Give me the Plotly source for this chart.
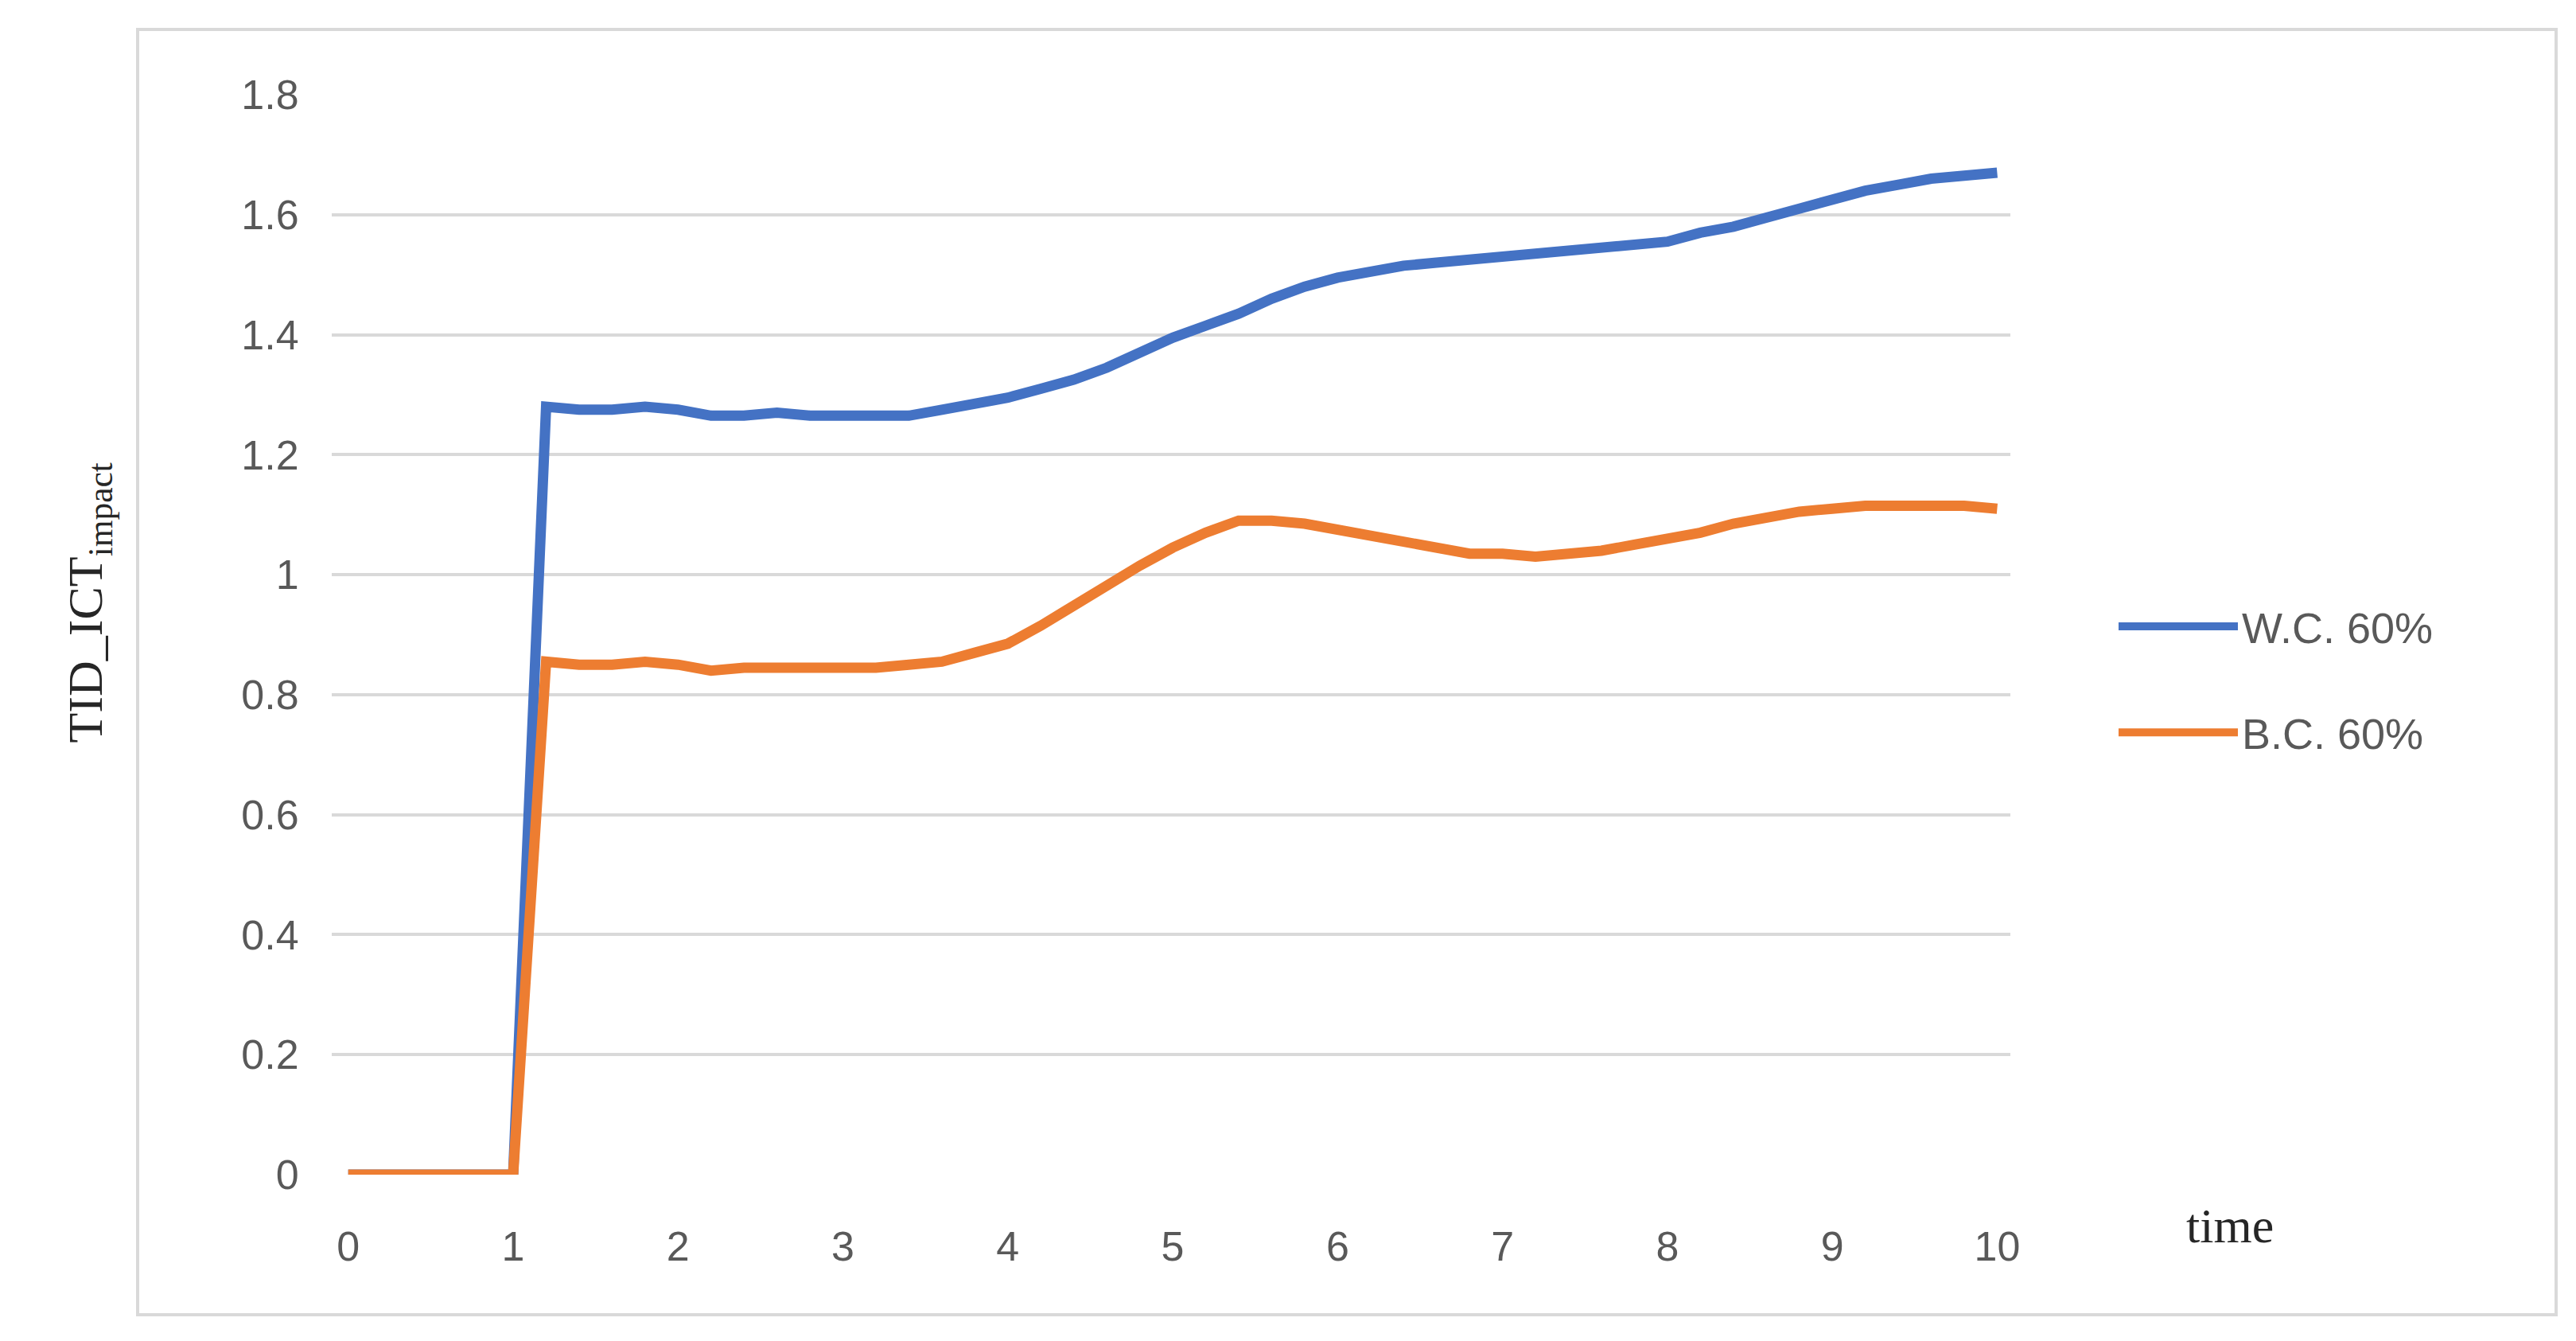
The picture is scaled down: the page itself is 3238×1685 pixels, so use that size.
import plotly.graph_objects as go

# time axis, step 0.2
time = [round(i * 0.2, 1) for i in range(51)]

wc_60 = [0, 0, 0, 0, 0, 0,
         1.28, 1.275, 1.275, 1.28, 1.275, 1.265, 1.265, 1.27, 1.265, 1.265,
         1.265, 1.265, 1.275, 1.285, 1.295, 1.31, 1.325, 1.345, 1.37, 1.395,
         1.415, 1.435, 1.46, 1.48, 1.495, 1.505, 1.515, 1.52, 1.525, 1.53,
         1.535, 1.54, 1.545, 1.55, 1.555, 1.57, 1.58, 1.595, 1.61, 1.625,
         1.64, 1.65, 1.66, 1.665, 1.67]
bc_60 = [0, 0, 0, 0, 0, 0,
         0.855, 0.85, 0.85, 0.855, 0.85, 0.84, 0.845, 0.845, 0.845, 0.845,
         0.845, 0.85, 0.855, 0.87, 0.885, 0.915, 0.95, 0.985, 1.015, 1.045,
         1.07, 1.09, 1.09, 1.085, 1.075, 1.065, 1.055, 1.045, 1.035, 1.035,
         1.03, 1.035, 1.04, 1.05, 1.06, 1.07, 1.085, 1.095, 1.105, 1.11,
         1.115, 1.115, 1.115, 1.115, 1.11]

W, H = 3238, 1685
L, R, T, B = 409, 2519, 111, 1468
pw, ph = R - L, B - T


def px(x):
    return (x - L) / pw


def py(y):
    return (B - y) / ph


fig = go.Figure()
fig.add_trace(go.Scatter(x=time, y=wc_60, mode="lines", name="W.C. 60%",
                         legendgroup="a", line=dict(color="#4472C4", width=13)))
fig.add_trace(go.Scatter(x=time, y=bc_60, mode="lines", name="B.C. 60%",
                         legendgroup="b", line=dict(color="#ED7D31", width=13)))

tick_font = dict(family="Liberation Sans", size=52, color="#595959")
fig.update_xaxes(range=[-0.1, 10.08], tickvals=list(range(11)), showgrid=False,
                 zeroline=False, showline=False, tickfont=tick_font, ticks="outside",
                 ticklen=45, tickcolor="rgba(0,0,0,0)")
fig.update_yaxes(range=[0, 1.8], tickvals=[i / 5 for i in range(10)],
                 ticktext=["0", "0.2", "0.4", "0.6", "0.8", "1", "1.2", "1.4", "1.6", "1.8"],
                 gridcolor="#D9D9D9", gridwidth=4, zeroline=False,
                 tickfont=tick_font, ticks="outside", ticklen=30,
                 tickcolor="rgba(0,0,0,0)")

fig.update_layout(
    width=W, height=H,
    margin=dict(l=L, r=W - R, t=T, b=H - B),
    plot_bgcolor="white", paper_bgcolor="white",
    showlegend=True,
    legend=dict(x=px(2650), y=py(846), xanchor="left", yanchor="middle",
                font=dict(family="Liberation Sans", size=54, color="#595959"),
                tracegroupgap=60, itemwidth=150),
    shapes=[dict(type="rect", xref="paper", yref="paper",
                 x0=px(165), x1=px(3205), y0=py(1644), y1=py(29),
                 line=dict(color="#D9D9D9", width=4))],
    annotations=[
        dict(text="TID_ICT<sub>impact</sub>", xref="paper", yref="paper",
             x=px(62), y=py(750), textangle=-90, showarrow=False,
             font=dict(family="Liberation Serif", size=62, color="#262626")),
        dict(text="time", xref="paper", yref="paper", x=px(2852), y=py(1568),
             showarrow=False,
             font=dict(family="Liberation Serif", size=62, color="#262626")),
    ],
)

fig.write_html("out.html")
